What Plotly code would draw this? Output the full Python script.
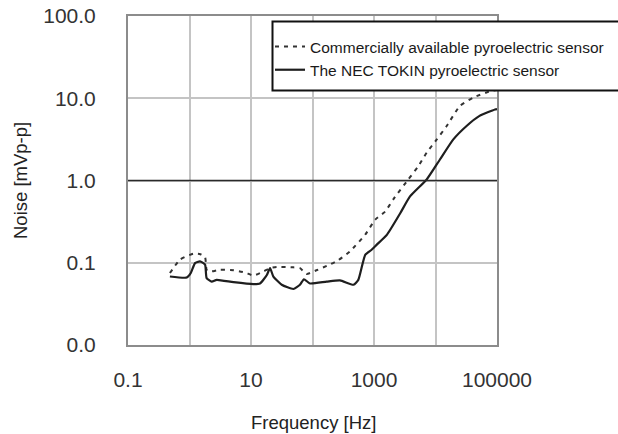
import plotly.graph_objects as go

# Data
freq_commercial = [0.48, 0.70, 1.15, 1.5, 1.79, 1.9, 2.1, 3.1, 5.2, 8.0, 10.9, 15.8, 20.4, 26, 48.8,
                   62.5, 80, 116, 190, 260, 405, 720, 1050, 1520, 2140, 3610, 5250, 7190, 10500,
                   15200, 24900, 41200, 81000, 100000]
noise_commercial = [0.075, 0.109, 0.129, 0.127, 0.117, 0.082, 0.078, 0.082, 0.081, 0.076, 0.070, 0.078,
                    0.086, 0.089, 0.088, 0.086, 0.073, 0.081, 0.095, 0.107, 0.137, 0.22, 0.335, 0.42,
                    0.615, 1.03, 1.49, 2.18, 3.16, 4.6, 8.05, 10.2, 12.3, 12.6]

freq_nec = [0.48, 0.9, 1.05, 1.23, 1.48, 1.79, 1.9, 2.3, 2.77, 5.2, 10.9, 14.0, 18.1, 20.4, 23.1,
            31.6, 48.8, 62.5, 72.6, 91, 170, 280, 464, 556, 720, 915, 1100, 1630, 2670, 3850,
            7190, 11800, 19500, 32000, 52000, 93000, 100000]
noise_nec = [0.068, 0.066, 0.075, 0.099, 0.104, 0.095, 0.065, 0.059, 0.062, 0.058, 0.055, 0.056,
             0.071, 0.086, 0.068, 0.054, 0.048, 0.054, 0.063, 0.056, 0.059, 0.061, 0.054, 0.062,
             0.125, 0.144, 0.165, 0.22, 0.40, 0.64, 1.03, 1.8, 3.16, 4.6, 6.1, 7.3, 7.4]

x_tickvals = [0.1, 1, 10, 100, 1000, 10000, 100000]
x_ticktext = ["0.1", "", "10", "", "1000", "", "100000"]
y_tickvals = [0.01, 0.1, 1, 10, 100]
y_ticktext = ["0.0", "0.1", "1.0", "10.0", "100.0"]

names = ["Commercially available pyroelectric sensor", "The NEC TOKIN pyroelectric sensor"]

FONT = "Liberation Sans, Arial, sans-serif"
W, H = 618, 434
L, R, T, B = 128, 121, 16, 89
PW, PH = W - L - R, H - T - B

fig = go.Figure()
fig.add_trace(go.Scatter(x=freq_commercial, y=noise_commercial, mode="lines", name=names[0],
                         line=dict(color="#333333", width=2, dash="4px,5px",
                                   shape="spline", smoothing=0.5)))
fig.add_trace(go.Scatter(x=freq_nec, y=noise_nec, mode="lines", name=names[1],
                         line=dict(color="#1e1e1e", width=2.2, shape="spline", smoothing=0.5)))

# dark gridline at 1.0
fig.add_shape(type="line", xref="paper", yref="y", x0=0, x1=1, y0=1, y1=1,
              line=dict(color="#2a2a2a", width=1.5), layer="above")
# legend frame (extends past right edge)
fig.add_shape(type="rect", xref="paper", yref="paper",
              x0=(272.5 - L) / PW, x1=1.4, y0=(H - B - 90.5) / PH, y1=(H - B - 21.5) / PH,
              line=dict(color="#111111", width=2), fillcolor="white", layer="above")

fig.update_layout(
    width=W, height=H,
    margin=dict(l=L, r=R, t=T, b=B, autoexpand=False),
    paper_bgcolor="white", plot_bgcolor="white",
    font=dict(family=FONT, color="#222222"),
    showlegend=True,
    legend=dict(xref="container", yref="container", x=270 / W, y=1 - 30 / H,
                xanchor="left", yanchor="top",
                bgcolor="rgba(0,0,0,0)", borderwidth=0,
                font=dict(size=15.5, color="#1a1a1a", family=FONT),
                tracegroupgap=0, itemwidth=30),
    xaxis=dict(type="log", range=[-1, 5], tickvals=x_tickvals, ticktext=x_ticktext,
               showgrid=True, gridcolor="#c4c4c4", gridwidth=2,
               showline=True, linecolor="#8c8c8c", linewidth=2, mirror=True,
               ticks="", ticklabelstandoff=15, automargin=False,
               tickfont=dict(size=21, color="#333333", family=FONT), zeroline=False),
    yaxis=dict(type="log", range=[-2, 2], tickvals=y_tickvals, ticktext=y_ticktext,
               showgrid=True, gridcolor="#c4c4c4", gridwidth=2,
               showline=True, linecolor="#8c8c8c", linewidth=2, mirror=True,
               ticks="", ticklabelstandoff=26, automargin=False,
               tickfont=dict(size=21, color="#333333", family=FONT), zeroline=False),
    annotations=[
        dict(text="Noise [mVp-p]", xref="paper", yref="paper",
             x=-(L - 20) / PW, y=(H - B - 181) / PH, textangle=-90, showarrow=False,
             xanchor="center", yanchor="middle", font=dict(size=18.5, color="#222222", family=FONT)),
        dict(text="Frequency [Hz]", xref="paper", yref="paper",
             x=(313 - L) / PW, y=-(422 - (H - B)) / PH, showarrow=False,
             xanchor="center", yanchor="middle", font=dict(size=18.5, color="#222222", family=FONT)),
    ],
)

fig.write_html("out.html")
